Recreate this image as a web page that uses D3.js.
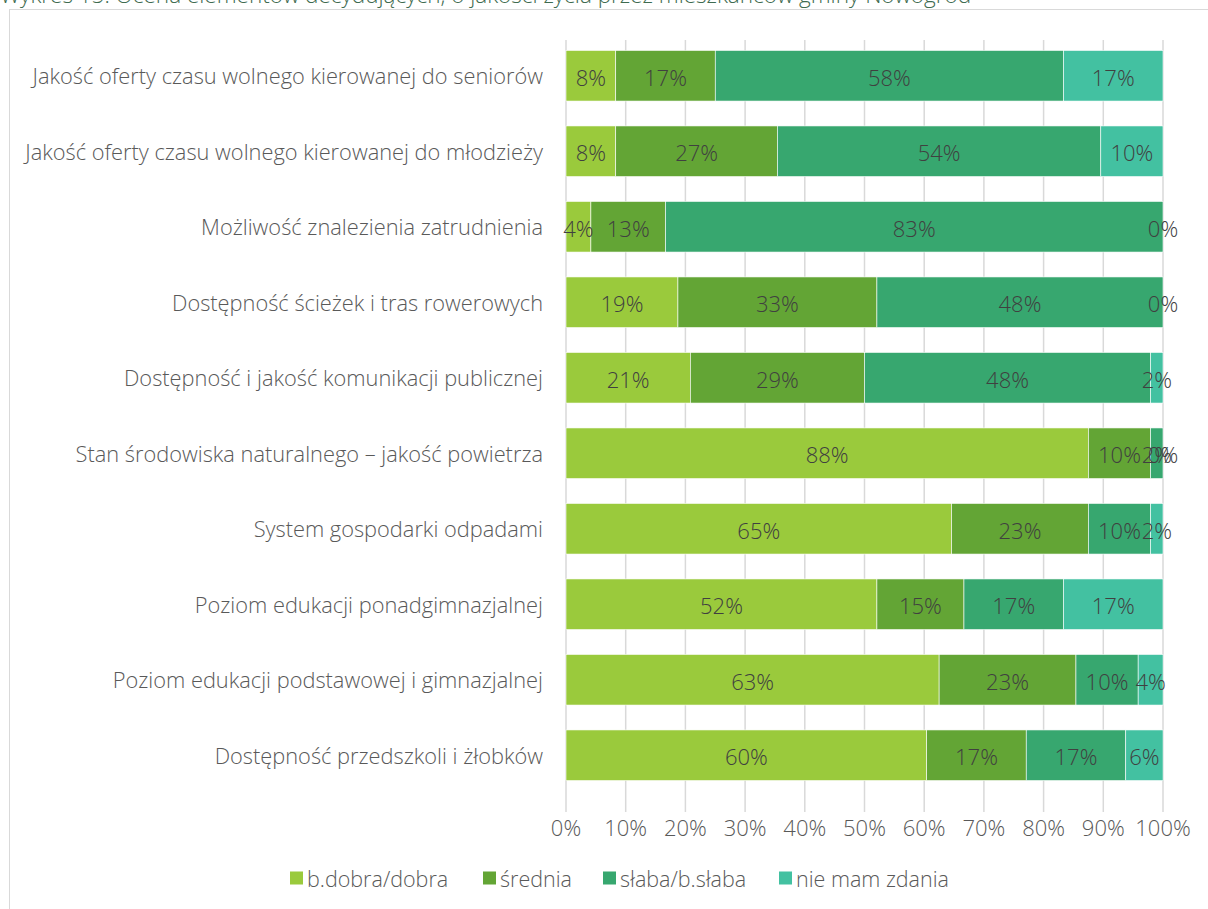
<!DOCTYPE html>
<html><head><meta charset="utf-8">
<script src="https://cdn.jsdelivr.net/npm/d3@7"></script>
<style>html,body{margin:0;padding:0;background:#fff;overflow:hidden}</style>
</head><body>
<svg id="c" width="1208" height="909"></svg>
<script>
const title = "Wykres 15. Ocena elementów decydujących, o jakości życia przez mieszkańców gminy Nowogród";
const categories = [
  "Jakość oferty czasu wolnego kierowanej do seniorów",
  "Jakość oferty czasu wolnego kierowanej do młodzieży",
  "Możliwość znalezienia zatrudnienia",
  "Dostępność ścieżek i tras rowerowych",
  "Dostępność i jakość komunikacji publicznej",
  "Stan środowiska naturalnego – jakość powietrza",
  "System gospodarki odpadami",
  "Poziom edukacji ponadgimnazjalnej",
  "Poziom edukacji podstawowej i gimnazjalnej",
  "Dostępność przedszkoli i żłobków"
];
const seriesNames = ["b.dobra/dobra", "średnia", "słaba/b.słaba", "nie mam zdania"];
const dobra    = [8.33, 8.33, 4.17, 18.75, 20.83, 87.50, 64.58, 52.08, 62.50, 60.42];
const srednia  = [16.67, 27.08, 12.50, 33.33, 29.17, 10.42, 22.92, 14.58, 22.92, 16.67];
const slaba    = [58.33, 54.17, 83.33, 47.92, 47.92, 2.08, 10.42, 16.67, 10.42, 16.67];
const brak     = [16.67, 10.42, 0.00, 0.00, 2.08, 0.00, 2.08, 16.67, 4.17, 6.25];
const xTicks = [0,10,20,30,40,50,60,70,80,90,100];
const colors = ["#9aca3c", "#63a535", "#37a76f", "#43c1a1"];

const seriesVals = [dobra, srednia, slaba, brak];
const svg = d3.select("#c");
const fontFam = "'Open Sans', 'Noto Sans', sans-serif";
const W = 300;

// title (partially cut off at top)
svg.append("text").attr("x", 0).attr("y", 3).attr("fill", "#3e6b50")
  .style("font-family", fontFam).style("font-weight", W).style("font-size", "22.5px").text(title);

// frame
svg.append("rect").attr("x", 9.5).attr("y", 9.5).attr("width", 1220).attr("height", 920)
  .attr("fill", "none").attr("stroke", "#d9d9d9").attr("stroke-width", 1);

const x = d3.scaleLinear().domain([0, 100]).range([566, 1163]);
const y = d3.scaleBand().domain(categories).range([38, 793]).paddingInner(0.33).paddingOuter(0.165);

// grid
svg.append("g").selectAll("line").data(xTicks).join("line")
  .attr("x1", d => x(d)).attr("x2", d => x(d)).attr("y1", 40).attr("y2", 812)
  .attr("stroke", "#d9d9d9").attr("stroke-width", 1.5);

// bars
const rows = categories.map((c, i) => {
  let acc = 0;
  return seriesVals.map((s, k) => { const v = s[i]; const o = {cat: c, k, v, x0: acc, x1: acc + v}; acc += v; return o; });
});
const flat = rows.flat();
svg.append("g").selectAll("rect").data(flat).join("rect")
  .attr("x", d => x(d.x0)).attr("width", d => x(d.x1) - x(d.x0))
  .attr("y", d => y(d.cat)).attr("height", y.bandwidth())
  .attr("fill", d => colors[d.k]).attr("stroke", "#ffffff").attr("stroke-width", 0.6);

// data labels
svg.append("g").selectAll("text").data(flat).join("text")
  .attr("x", d => x((d.x0 + d.x1) / 2)).attr("y", d => y(d.cat) + y.bandwidth() / 2 + 1)
  .attr("text-anchor", "middle").attr("dominant-baseline", "central")
  .attr("fill", "#404040").style("font-family", fontFam).style("font-weight", W).style("font-size", "22px")
  .text(d => Math.round(d.v) + "%");

// category labels
svg.append("g").selectAll("text").data(categories).join("text")
  .attr("x", 543).attr("y", d => y(d) + y.bandwidth() / 2)
  .attr("text-anchor", "end").attr("dominant-baseline", "central")
  .attr("fill", "#595959").style("font-family", fontFam).style("font-weight", W).style("font-size", "21.8px")
  .text(d => d);

// x axis labels
svg.append("g").selectAll("text").data(xTicks).join("text")
  .attr("x", d => x(d)).attr("y", 827).attr("text-anchor", "middle").attr("dominant-baseline", "central")
  .attr("fill", "#595959").style("font-family", fontFam).style("font-weight", W).style("font-size", "22px")
  .text(d => d + "%");

// legend
const legX = [290, 483, 603, 779];
const leg = svg.append("g").selectAll("g").data(seriesNames).join("g")
  .attr("transform", (d, i) => `translate(${legX[i]},878)`);
leg.append("rect").attr("x", 0).attr("y", -6.5).attr("width", 13).attr("height", 13).attr("fill", (d, i) => colors[i]);
leg.append("text").attr("x", 17).attr("y", 0).attr("dominant-baseline", "central")
  .attr("fill", "#595959").style("font-family", fontFam).style("font-weight", W).style("font-size", "21.5px").text(d => d);
</script>
</body></html>
